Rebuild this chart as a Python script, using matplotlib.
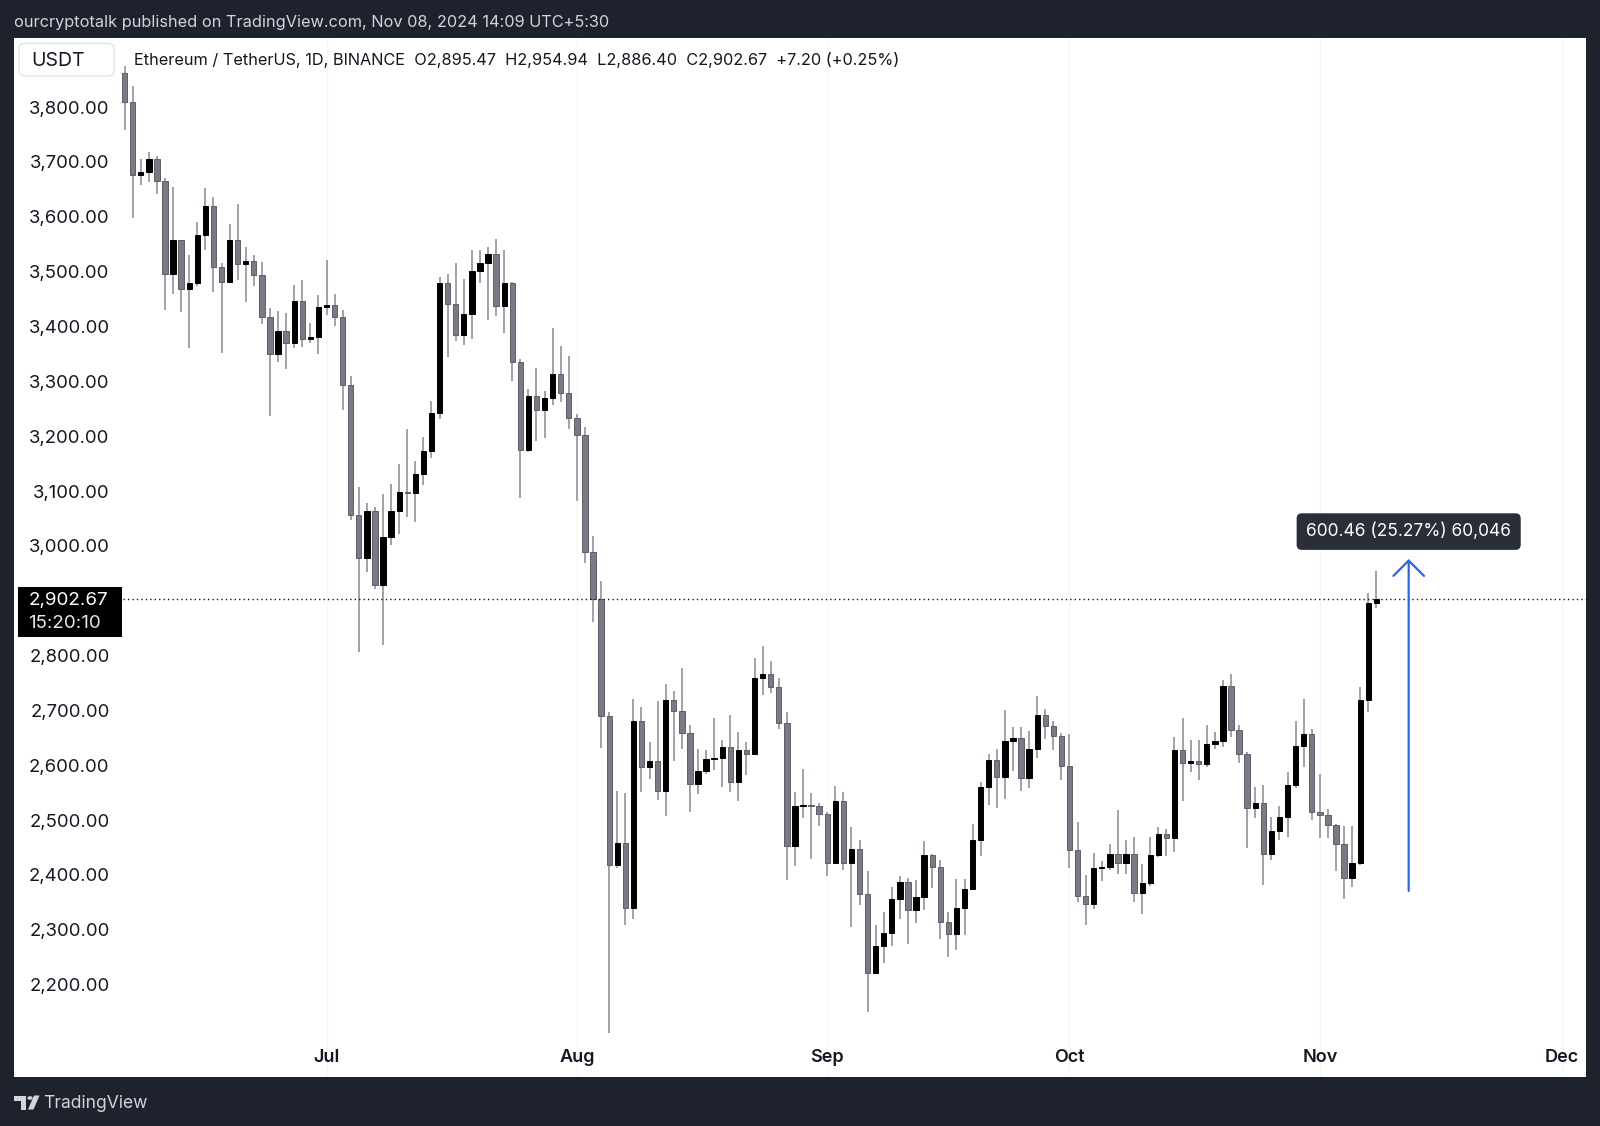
import matplotlib
matplotlib.use('Agg')
import matplotlib.pyplot as plt
import matplotlib.dates as mdates
import matplotlib.transforms as mtransforms
from matplotlib.patches import FancyBboxPatch, Rectangle, Polygon, Circle
import numpy as np
import pandas as pd

plt.rcParams['font.family'] = ['Inter', 'DejaVu Sans']

# ETH/USDT daily candles, Jun 6 - Nov 8 2024
dates = pd.date_range('2024-06-06', '2024-11-08', freq='D')

opens = [
    3862, 3809, 3677, 3681, 3705, 3666, 3496, 3558, 3468, 3480, 3566, 3620, 3509, 3482, 3558, 3514, 3520, 3494, 3418, 3350, 3392, 3369, 3447, 3377, 3380,
    3435, 3439, 3418, 3293, 3056, 2978, 3064, 2929, 3017, 3064, 3098, 3096, 3131, 3173, 3242, 3480, 3441, 3385, 3423, 3501, 3515, 3532, 3437, 3480, 3336, 3175, 3273, 3248, 3269, 3314, 3278,
    3233, 3203, 2988, 2903, 2690, 2418, 2459, 2340, 2680, 2596, 2607, 2553, 2719, 2699, 2658, 2566, 2590, 2611, 2613, 2633, 2570, 2628, 2620, 2760, 2766, 2743, 2678, 2453, 2526, 2527, 2525,
    2511, 2422, 2535, 2422, 2447, 2366, 2222, 2271, 2295, 2356, 2387, 2337, 2359, 2436, 2415, 2314, 2292, 2339, 2374, 2463, 2560, 2610, 2578, 2644, 2649, 2577, 2629, 2692, 2672, 2654,
    2599, 2446, 2362, 2348, 2412, 2414, 2438, 2421, 2438, 2368, 2385, 2436, 2475, 2467, 2627, 2605, 2608, 2603, 2639, 2645, 2745, 2665, 2620, 2522, 2532, 2438, 2480, 2505, 2564, 2636, 2657,
    2515, 2509, 2491, 2456, 2395, 2421, 2719, 2895.47,
]
highs = [
    3874, 3839, 3706, 3719, 3710, 3670, 3655, 3558, 3530, 3591, 3652, 3636, 3515, 3587, 3623, 3544, 3530, 3518, 3433, 3429, 3424, 3476, 3485, 3406, 3457,
    3522, 3460, 3430, 3310, 3108, 3079, 3070, 3094, 3113, 3149, 3214, 3155, 3199, 3265, 3491, 3495, 3515, 3487, 3539, 3539, 3545, 3559, 3539, 3482, 3340, 3286, 3325, 3283, 3397, 3364, 3347,
    3240, 3216, 3018, 2936, 2697, 2554, 2549, 2720, 2706, 2642, 2717, 2748, 2736, 2777, 2673, 2629, 2628, 2687, 2646, 2692, 2660, 2642, 2796, 2817, 2790, 2760, 2698, 2552, 2593, 2549, 2532,
    2514, 2562, 2551, 2488, 2464, 2407, 2309, 2332, 2379, 2398, 2395, 2390, 2462, 2438, 2427, 2333, 2392, 2392, 2493, 2570, 2621, 2630, 2701, 2669, 2670, 2663, 2726, 2702, 2681, 2659,
    2657, 2497, 2400, 2440, 2425, 2456, 2518, 2464, 2470, 2420, 2469, 2488, 2483, 2651, 2686, 2646, 2646, 2673, 2661, 2755, 2766, 2673, 2625, 2560, 2564, 2505, 2526, 2587, 2680, 2720, 2666,
    2585, 2521, 2493, 2489, 2489, 2743, 2915, 2954.94,
]
lows = [
    3758, 3598, 3658, 3664, 3641, 3430, 3460, 3427, 3360, 3473, 3540, 3462, 3352, 3480, 3484, 3445, 3473, 3404, 3237, 3336, 3323, 3360, 3363, 3370, 3350,
    3421, 3400, 3248, 3048, 2807, 2953, 2921, 2820, 3002, 3022, 3053, 3043, 3111, 3161, 3231, 3345, 3374, 3366, 3378, 3480, 3411, 3420, 3388, 3300, 3088, 3172, 3191, 3197, 3257, 3262, 3214,
    3081, 2968, 2861, 2632, 2112, 2412, 2308, 2319, 2551, 2575, 2537, 2508, 2608, 2630, 2514, 2548, 2584, 2591, 2561, 2552, 2534, 2582, 2619, 2729, 2731, 2666, 2391, 2417, 2503, 2429, 2490,
    2399, 2422, 2409, 2305, 2345, 2150, 2221, 2239, 2271, 2320, 2275, 2313, 2336, 2376, 2283, 2251, 2263, 2290, 2373, 2435, 2528, 2523, 2538, 2590, 2554, 2558, 2614, 2648, 2628, 2573,
    2413, 2350, 2309, 2338, 2389, 2410, 2401, 2402, 2350, 2329, 2380, 2432, 2435, 2441, 2535, 2587, 2574, 2596, 2629, 2634, 2652, 2605, 2449, 2504, 2381, 2428, 2463, 2470, 2558, 2597, 2501,
    2467, 2468, 2407, 2356, 2379, 2418, 2698, 2886.40,
]
closes = [
    3809, 3677, 3681, 3705, 3666, 3496, 3558, 3468, 3480, 3566, 3620, 3509, 3482, 3558, 3514, 3520, 3494, 3418, 3350, 3392, 3369, 3447, 3377, 3380, 3435,
    3439, 3418, 3293, 3056, 2978, 3064, 2929, 3017, 3064, 3098, 3096, 3131, 3173, 3242, 3480, 3441, 3385, 3423, 3501, 3515, 3532, 3437, 3480, 3336, 3175, 3273, 3248, 3269, 3314, 3278, 3233,
    3203, 2988, 2903, 2690, 2418, 2459, 2340, 2680, 2596, 2607, 2553, 2719, 2699, 2658, 2566, 2590, 2611, 2613, 2633, 2570, 2628, 2620, 2760, 2766, 2743, 2678, 2453, 2526, 2527, 2525, 2511,
    2422, 2535, 2422, 2447, 2366, 2222, 2271, 2295, 2356, 2387, 2337, 2359, 2436, 2415, 2314, 2292, 2339, 2374, 2463, 2560, 2610, 2578, 2644, 2649, 2577, 2629, 2692, 2672, 2654, 2599,
    2446, 2362, 2348, 2412, 2414, 2438, 2421, 2438, 2368, 2385, 2436, 2475, 2467, 2627, 2605, 2608, 2603, 2639, 2645, 2745, 2665, 2620, 2522, 2532, 2438, 2480, 2505, 2564, 2636, 2657, 2515,
    2509, 2491, 2456, 2395, 2421, 2719, 2895.47, 2902.67,
]

price_ticks = [3800, 3700, 3600, 3500, 3400, 3300, 3200, 3100, 3000, 2800, 2700, 2600, 2500, 2400, 2300, 2200]
month_ticks = ['2024-07-01', '2024-08-01', '2024-09-01', '2024-10-01', '2024-11-01', '2024-12-01']
month_labels = ['Jul', 'Aug', 'Sep', 'Oct', 'Nov', 'Dec']

last_price = 2902.67
measure_from, measure_to = 2371.0, 2976.0
measure_date = '2024-11-12'

W, H = 1600, 1126
BG = '#1e222d'
GREY = '#787b86'
WICK = '#868993'


def fx(px):
    return px / W


def fy(py):
    return 1 - py / H


fig = plt.figure(figsize=(16, 11.26), dpi=100, facecolor=BG)

ax = fig.add_axes([fx(14.3), fy(1077), fx(1585.7) - fx(14.3), fy(37.8) - fy(1077)])
ax.set_facecolor('white')
for s in ax.spines.values():
    s.set_visible(False)
ax.set_xticks([])
ax.set_yticks([])

x = mdates.date2num(dates)
o = np.array(opens)
h = np.array(highs)
l = np.array(lows)
c = np.array(closes)
assert len(x) == len(o) == len(h) == len(l) == len(c)

up = c >= o
body_lo = np.minimum(o, c)
body_h = np.maximum(np.abs(c - o), 2.2)

# faint month grid
for m in month_ticks:
    ax.axvline(mdates.date2num(pd.Timestamp(m)), color='#f5f6f8', lw=1, zorder=0)

ax.vlines(x, l, h, color=WICK, lw=1.1, zorder=1)
ax.bar(x[~up], body_h[~up], bottom=body_lo[~up], width=0.66, color=GREY,
       edgecolor='#5d606b', linewidth=0.7, zorder=2)
ax.bar(x[up], body_h[up], bottom=body_lo[up], width=0.66, color='black',
       edgecolor='black', linewidth=0.7, zorder=2)

x0 = x[0]
ax.set_xlim(x0 - 13.66, x0 + 180.92)
ax.set_ylim(2031.7, 3926.3)

# current price dotted line
ax.axhline(last_price, xmin=0.069, color='#131722', lw=1.0, ls=(0, (1, 2.2)), zorder=3)

# price scale labels (inside, left)
down2 = mtransforms.ScaledTranslation(0, -2 / 100, fig.dpi_scale_trans)
ytrans = mtransforms.blended_transform_factory(ax.transAxes, ax.transData) + down2
for p in price_ticks:
    ax.text(0.0606, p, f'{p:,.2f}', transform=ytrans, ha='right', va='center',
            fontsize=13.3, color='#131722')

# month labels
xtrans = mtransforms.blended_transform_factory(ax.transData, ax.transAxes)
for m, lab in zip(month_ticks, month_labels):
    ax.text(mdates.date2num(pd.Timestamp(m)), 0.0186, lab, transform=xtrans,
            ha='center', va='center', fontsize=13, fontweight='semibold', color='#131722')

# measure arrow
mx = mdates.date2num(pd.Timestamp(measure_date))
ax.annotate('', xy=(mx, measure_to), xytext=(mx, measure_from),
            arrowprops=dict(arrowstyle='->,head_length=0.55,head_width=0.55', color='#2962ff',
                            lw=1.6, mutation_scale=20, shrinkA=0, shrinkB=0), zorder=4)
ax.text(mx, 3029.7, '600.46 (25.27%) 60,046', ha='center', va='center', fontsize=12.5,
        color='white', zorder=6, transform=ax.transData + down2,
        bbox=dict(boxstyle='round,pad=0.55,rounding_size=0.3', fc='#2a2e39', ec='none'))

# last price label box
fig.patches.append(Rectangle((fx(18.4), fy(636.7)), fx(122.4) - fx(18.4), fy(586.7) - fy(636.7),
                             transform=fig.transFigure, facecolor='black', edgecolor='none', zorder=5))
fig.text(fx(28.5), fy(601), f'{last_price:,.2f}', ha='left', va='center', fontsize=13.5,
         color='white', zorder=6)
fig.text(fx(28.5), fy(623), '15:20:10', ha='left', va='center', fontsize=13.5,
         color='#e6e6e6', zorder=6)

# USDT box
fig.patches.append(FancyBboxPatch((fx(19), fy(76)), fx(114) - fx(19), fy(43.5) - fy(76),
                                  boxstyle='round,pad=0,rounding_size=0.004',
                                  transform=fig.transFigure, facecolor='white',
                                  edgecolor='#e0e3eb', lw=1, zorder=5))
fig.text(fx(31.5), fy(61.5), 'USDT', ha='left', va='center', fontsize=14, color='#131722', zorder=6)

# legend line
fig.text(fx(134.5), fy(60.5),
         'Ethereum / TetherUS, 1D, BINANCE  O2,895.47  H2,954.94  L2,886.40  C2,902.67  +7.20 (+0.25%)',
         ha='left', va='center', fontsize=11.75, color='#131722')

# header
fig.text(fx(14.3), fy(23), 'ourcryptotalk published on TradingView.com, Nov 08, 2024 14:09 UTC+5:30',
         ha='left', va='center', fontsize=11.75, color='#d1d4dc')

# footer logo + name
logo_c = '#d1d4dc'
fig.patches.append(Polygon([(fx(14.5), fy(1095.5)), (fx(26), fy(1095.5)), (fx(26), fy(1109.5)),
                            (fx(21), fy(1109.5)), (fx(21), fy(1100.5)), (fx(14.5), fy(1100.5))],
                           closed=True, transform=fig.transFigure, fc=logo_c, ec='none'))
fig.patches.append(Circle((fx(30), fy(1098)), 2.6 / W, transform=fig.transFigure, fc=logo_c, ec='none'))
fig.patches.append(Polygon([(fx(34), fy(1095.5)), (fx(39.5), fy(1095.5)), (fx(33.5), fy(1109.5)),
                            (fx(28), fy(1109.5))],
                           closed=True, transform=fig.transFigure, fc=logo_c, ec='none'))
fig.text(fx(43), fy(1103.5), 'TradingView', ha='left', va='center', fontsize=12.6, color=logo_c)

fig.savefig('out.png', dpi=100, facecolor=BG)
